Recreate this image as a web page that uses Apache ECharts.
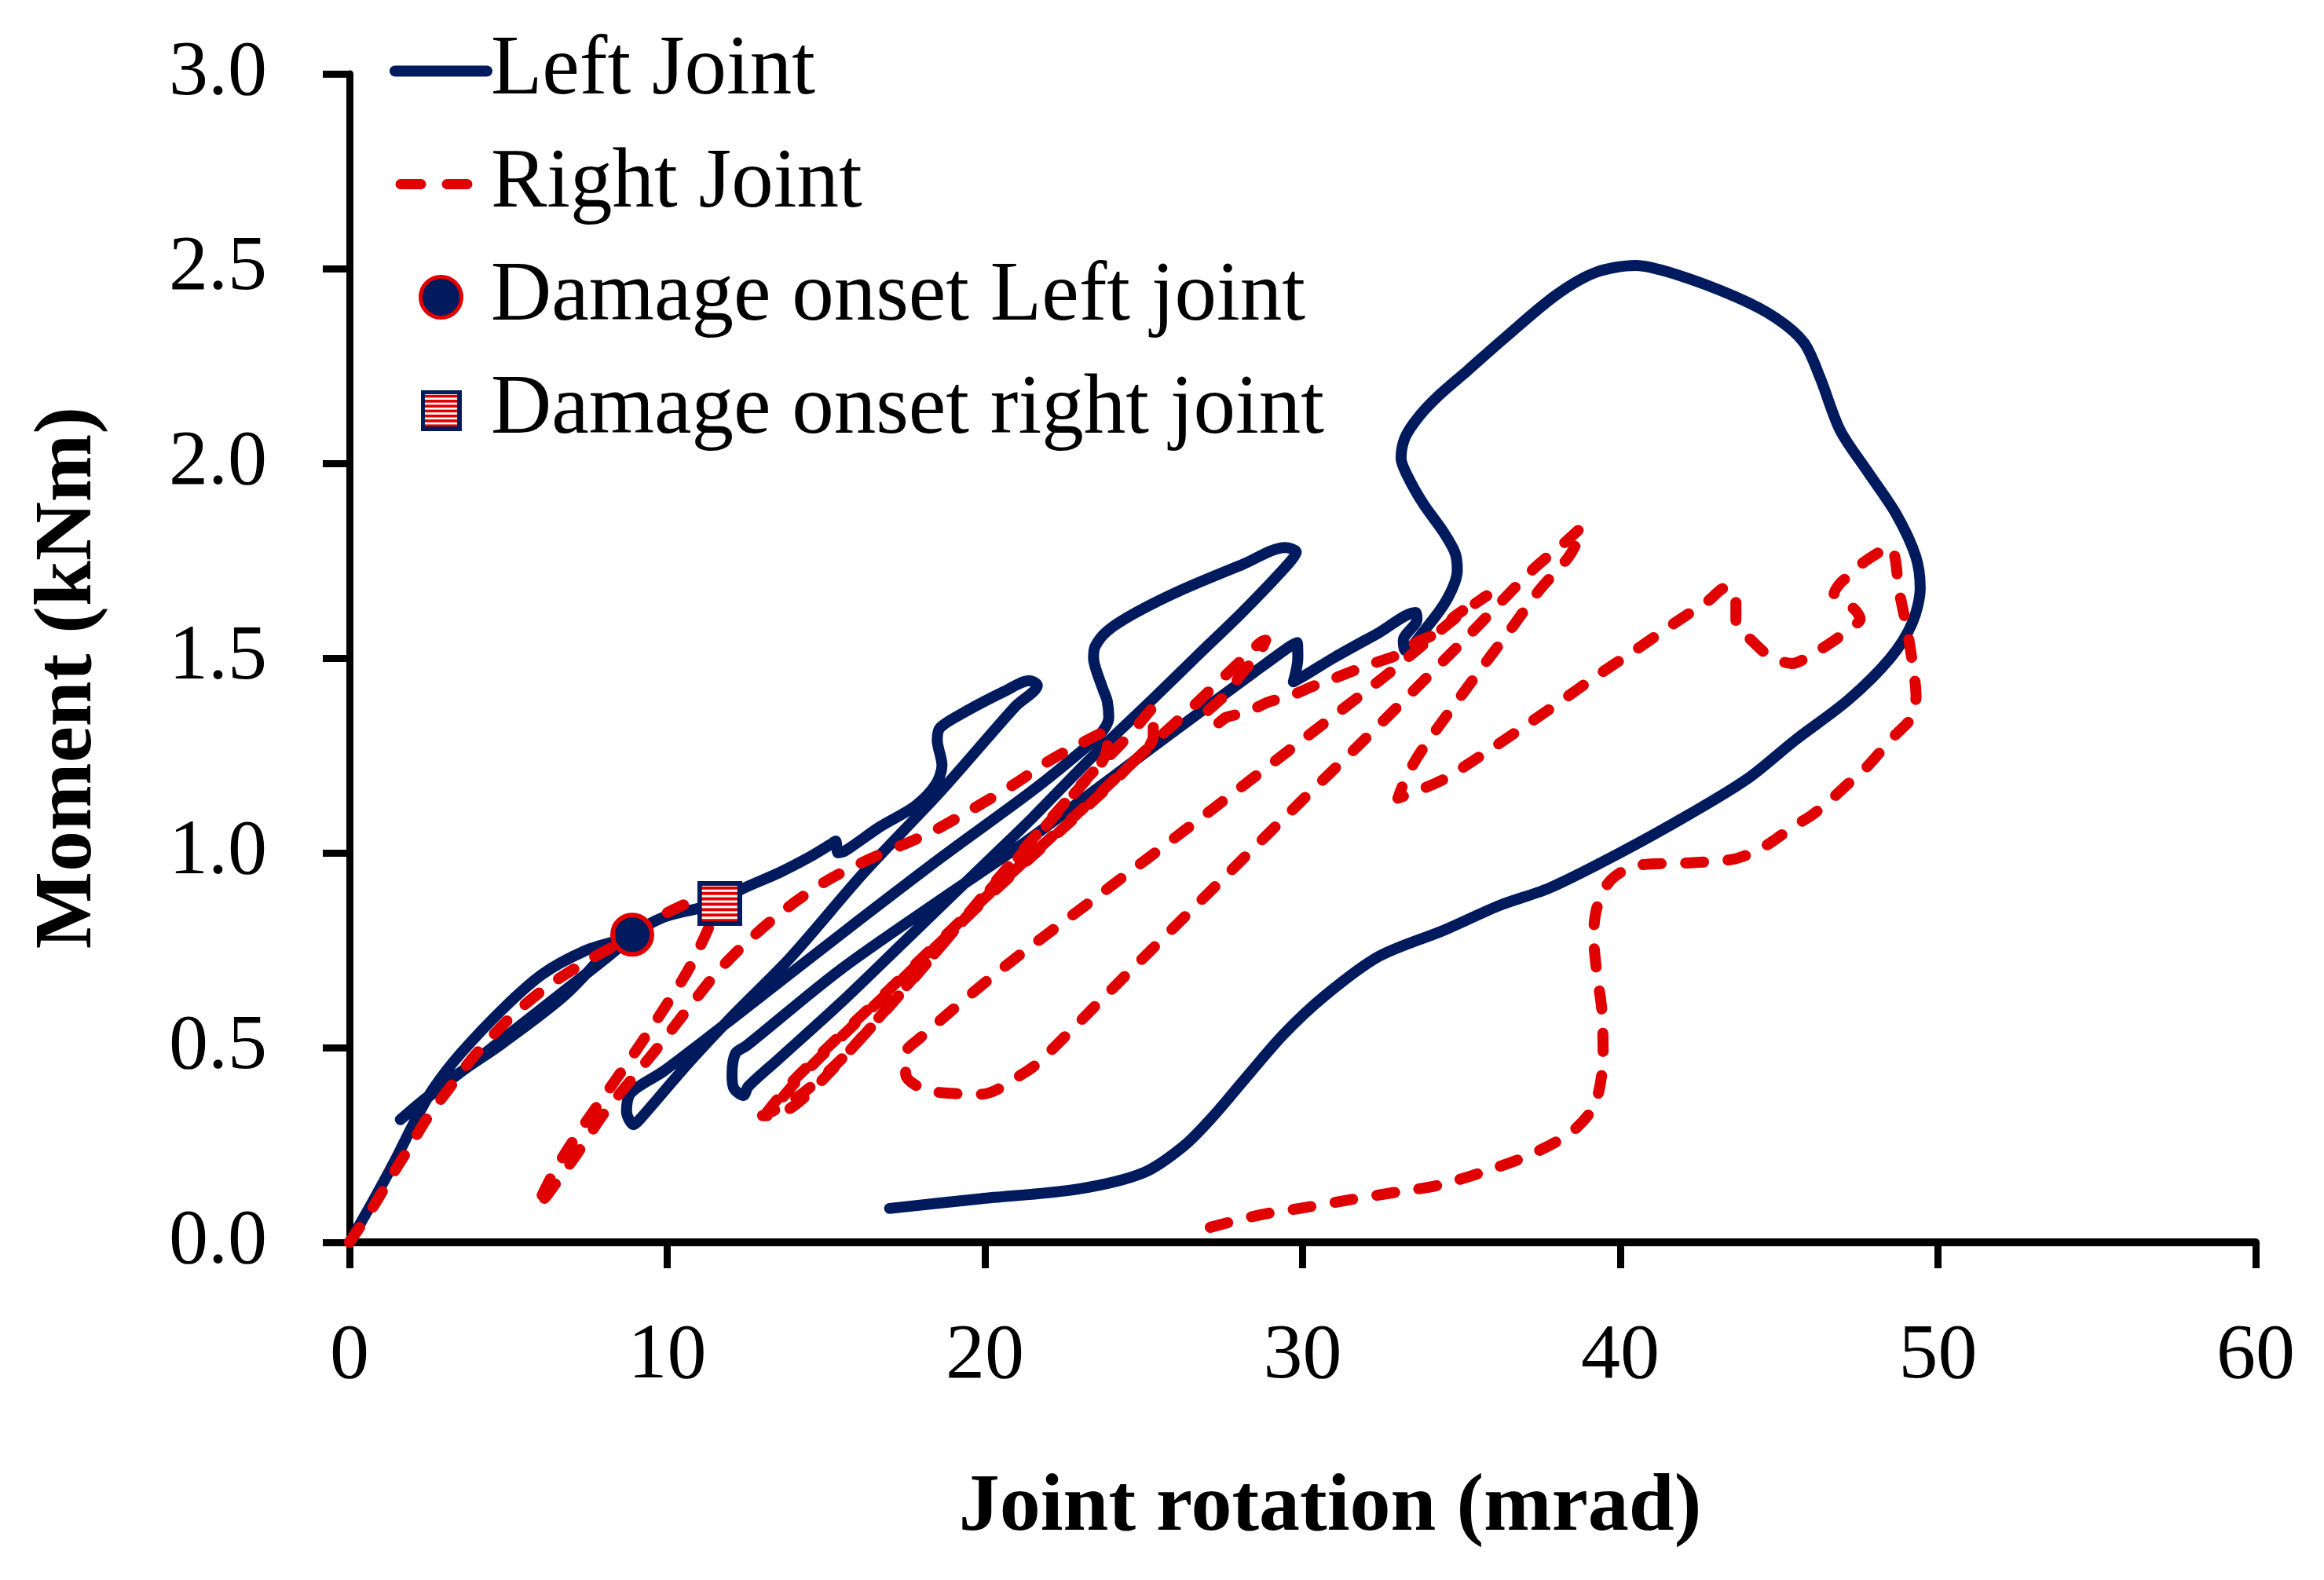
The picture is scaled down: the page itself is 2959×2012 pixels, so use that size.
<!DOCTYPE html>
<html><head><meta charset="utf-8">
<script src="https://cdn.jsdelivr.net/npm/echarts@6/dist/echarts.min.js"></script>
<style>html,body{margin:0;padding:0;background:#fff}#c{width:2959px;height:2012px}</style>
</head><body><div id="c"></div>
<script>
// ---- Left joint (solid navy) path, in loading order ----
const leftCycle1 = [[0,0],[0.7,0.1],[1.4,0.205],[2.05,0.31],[2.6,0.39],[3.5,0.485],[4.9,0.605],[6.1,0.69],[7.4,0.748],[8.35,0.772]];
const leftUnload1 = [[6.8,0.636],[4.8,0.51],[3.6,0.443],[2.4,0.37],[1.6,0.315]];
const leftReload1 = [[2.4,0.368],[3.6,0.443],[4.8,0.52],[6.8,0.648],[8.35,0.748],[8.9,0.79]];
const leftEnvelope = [[9.9,0.835],[11.0,0.858],[11.7,0.875],[12.3,0.905],[13.55,0.95],[14.5,0.99],[15.15,1.022],[15.3,1.03],[15.38,1.0],[15.6,1.005],[16.7,1.067],[17.8,1.12],[18.45,1.175],[18.65,1.225],[18.5,1.29],[18.6,1.322],[19.4,1.363],[20.6,1.414],[21.4,1.442],[21.65,1.43]];
const leftUnload2 = [[20.96,1.376],[18.6,1.157],[16.2,0.95],[13.9,0.733],[12.1,0.585],[10.7,0.463],[9.13,0.315],[8.95,0.302],[8.72,0.335],[8.86,0.384]];
const leftReload2 = [[9.9,0.44],[12.3,0.59],[15.45,0.79],[18.66,0.99],[21.5,1.16],[23.12,1.267],[23.69,1.311],[23.9,1.348],[23.85,1.39],[23.74,1.415],[23.5,1.47],[23.42,1.5],[23.47,1.53],[23.86,1.57],[24.76,1.617],[26.25,1.677],[28.13,1.741],[29.45,1.784],[29.8,1.772]];
const leftUnload3 = [[29.54,1.741],[28.13,1.62],[26.71,1.508],[25.29,1.395],[23.3,1.24],[21.5,1.09],[20.27,0.993],[17.5,0.775],[15.45,0.614],[13.5,0.47],[12.55,0.40],[12.4,0.377],[12.1,0.395],[12.04,0.43],[12.15,0.485],[12.5,0.505]];
const leftReload3 = [[15.45,0.70],[18.7,0.885],[21.14,1.02],[23.12,1.14],[26.0,1.315],[28.5,1.465],[29.6,1.53],[29.83,1.54],[29.85,1.5],[29.71,1.439],[30.0,1.452],[31.03,1.503],[32.4,1.565],[33.55,1.617],[33.6,1.6],[33.17,1.545],[33.23,1.52]];
const leftBigLoop = [[33.93,1.581],[34.56,1.653],[34.87,1.725],[34.8,1.77],[34.43,1.824],[33.8,1.896],[33.3,1.968],[33.1,2.013],[33.23,2.067],[33.67,2.121],[34.3,2.175],[35.19,2.238],[36.32,2.319],[37.96,2.431],[39.22,2.49],[40.49,2.508],[41.75,2.485],[43.64,2.427],[44.9,2.373],[45.78,2.31],[46.29,2.22],[46.92,2.085],[47.8,1.977],[48.69,1.869],[49.3,1.761],[49.44,1.68],[49.19,1.59],[48.5,1.5],[47.17,1.392],[45.5,1.289],[44.0,1.19],[42.2,1.10],[39.99,1.0],[37.78,0.91],[36.2,0.865],[34.47,0.802],[32.4,0.734],[30.7,0.633],[29.39,0.533],[28.16,0.417],[27.2,0.325],[26.27,0.248],[25.0,0.179],[22.94,0.137],[19.87,0.112],[17.0,0.087]];

// ---- Right joint (dashed red) path, in loading order ----
const rightEnvelope = [[0,0],[0.71,0.087],[1.33,0.171],[1.84,0.238],[2.46,0.321],[3.07,0.388],[3.69,0.455],[4.3,0.513],[5.22,0.589],[6.35,0.664],[7.58,0.727],[8.7,0.778],[9.53,0.825],[10.35,0.86],[11.17,0.885],[11.6,0.88]];
const rightUnload1 = [[11.45,0.835],[10.7,0.705],[9.9,0.6],[9.0,0.49],[8.1,0.385],[7.2,0.28],[6.5,0.19],[6.0,0.11],[5.92,0.09]];
const rightReload1 = [[6.3,0.13],[7.1,0.22],[8.0,0.33],[8.9,0.42],[9.8,0.51],[10.8,0.615],[11.7,0.705],[12.7,0.785],[13.8,0.86],[15.06,0.93],[16.4,0.985],[18.23,1.05],[19.56,1.11],[20.9,1.175],[22.02,1.236],[23.0,1.28],[23.6,1.305],[23.9,1.315]];
const rightUnload2 = [[23.85,1.27],[23.69,1.234],[23.2,1.188],[20.37,0.925],[17.6,0.665],[15.5,0.47],[14.14,0.36],[13.3,0.325],[13.0,0.325]];
const rightReload2 = [[13.4,0.34],[14.3,0.385],[15.6,0.48],[17.7,0.672],[20.37,0.93],[23.2,1.19],[24.15,1.268],[24.68,1.315],[25.3,1.375]];
const rightUnload3 = [[25.3,1.3],[24.47,1.217],[23.44,1.136],[20.27,0.9],[17.0,0.645],[15.0,0.49],[14.03,0.41],[13.4,0.35],[13.1,0.33]];
const rightReload3 = [[14.03,0.42],[17.0,0.65],[20.27,0.905],[23.44,1.14],[25.5,1.297],[26.58,1.378],[28.22,1.506],[28.7,1.542],[28.84,1.546]];
const rightCurl = [[28.6,1.506],[28.14,1.466],[27.65,1.412],[27.2,1.378],[27.0,1.36],[27.0,1.335],[27.25,1.33],[27.6,1.348]];
const rightFlat = [[28.22,1.361],[28.96,1.388],[29.58,1.402],[30.37,1.429],[30.94,1.446],[32.0,1.48],[33.14,1.513]];
const rightUpper = [[33.59,1.541],[34.47,1.572],[34.74,1.604],[35.57,1.649],[35.8,1.66]];
const rightUnload4 = [[35.0,1.615],[33.36,1.505],[32.7,1.46],[30.0,1.29],[27.13,1.11],[23.54,0.888],[20.5,0.70],[17.92,0.522],[17.5,0.485],[17.51,0.43],[18.0,0.395],[18.54,0.385],[19.87,0.38],[21.3,0.438],[21.82,0.472]];
const rightReload4 = [[24.0,0.65],[27.46,0.931],[30.0,1.136],[32.26,1.316],[35.25,1.56],[37.27,1.729],[38.3,1.8],[38.77,1.835]];
const rightUnload5 = [[38.65,1.80],[38.34,1.756],[37.46,1.675],[36.58,1.577],[35.46,1.455],[33.75,1.263],[33.26,1.194],[33.0,1.14]];
const rightReload5 = [[33.7,1.162],[34.47,1.19],[35.68,1.253],[36.9,1.32],[38.11,1.388],[39.27,1.455],[40.43,1.518],[41.64,1.586],[42.8,1.649],[43.3,1.68],[43.6,1.672],[43.64,1.635],[43.64,1.59],[44.14,1.545],[44.64,1.509],[45.4,1.486],[46.03,1.509],[46.73,1.545],[47.24,1.577],[47.55,1.6],[47.36,1.626],[46.9,1.65],[46.73,1.665],[46.9,1.69],[47.17,1.71],[47.68,1.747],[48.3,1.779],[48.5,1.785]];
const rightUnload6 = [[48.65,1.757],[48.76,1.68],[48.87,1.635],[49.04,1.568],[49.26,1.451],[49.31,1.401],[49.2,1.36],[49.09,1.338],[48.65,1.302],[48.16,1.257],[47.66,1.212],[47.1,1.172],[46.61,1.135],[46.0,1.095],[45.45,1.068],[44.84,1.032],[44.29,1.005],[43.52,0.983],[42.08,0.974],[40.65,0.969],[40.04,0.951],[39.6,0.92],[39.27,0.861],[39.16,0.789],[39.25,0.7],[39.42,0.595],[39.46,0.479],[39.32,0.386],[39.04,0.332],[38.38,0.278],[37.14,0.224],[35.73,0.182],[34.3,0.147],[32.89,0.128],[31.47,0.109],[30.05,0.089],[28.63,0.07],[26.93,0.035]];

// ---- Damage onset markers ----
const damageLeft = [[8.9, 0.79]];
const damageRight = [[11.65, 0.87]];

const seriesNames = ['Left Joint','Right Joint','Damage onset Left joint','Damage onset right joint'];

const leftJoint = [].concat(leftCycle1,leftUnload1,leftReload1,leftEnvelope,leftUnload2,leftReload2,leftUnload3,leftReload3,leftBigLoop);
const rightJoint = [].concat(rightEnvelope,rightUnload1,rightReload1,rightUnload2,rightReload2,rightUnload3,rightReload3,rightCurl,rightFlat,rightUpper,rightUnload4,rightReload4,rightUnload5,rightReload5,rightUnload6);

const NAVY = '#001a5e', RED = '#e00000', FONT = 'Liberation Serif';
const HIDDEN = {color: 'rgba(0,0,0,0)', borderWidth: 0, borderColor: 'rgba(0,0,0,0)', opacity: 0};

// striped square marker image (navy frame, red/white horizontal stripes)
function stripedSquare(){
  const s = 58, b = 6;
  const c = document.createElement('canvas'); c.width = s; c.height = s;
  const g = c.getContext('2d');
  g.fillStyle = NAVY; g.fillRect(0,0,s,s);
  g.fillStyle = '#ffffff'; g.fillRect(b,b,s-2*b,s-2*b);
  g.fillStyle = RED;
  for (let y = b + 1; y < s - b; y += 7) g.fillRect(b, y, s-2*b, Math.min(4, s-b-y));
  return 'image://' + c.toDataURL();
}
const squareIcon = stripedSquare();

const chart = echarts.init(document.getElementById('c'), null, {renderer:'canvas'});
chart.setOption({
  animation: false,
  backgroundColor: '#ffffff',
  grid: {left: 445, right: 87, top: 94, bottom: 430, containLabel: false},
  legend: {
    orient: 'vertical', left: 496, top: 37, padding: 0,
    itemWidth: 117, itemHeight: 52, itemGap: 37,
    textStyle: {fontFamily: FONT, fontSize: 107, color: '#000', lineHeight: 104},
    data: [
      {name: seriesNames[0], itemStyle: HIDDEN, lineStyle: {width: 14, color: NAVY, type: 'solid'}},
      {name: seriesNames[1], itemStyle: HIDDEN, lineStyle: {width: 13, color: RED, type: [26, 33], cap: 'round', dashOffset: -7}},
      {name: seriesNames[2], itemStyle: {color: NAVY, borderColor: RED, borderWidth: 5}},
      {name: seriesNames[3], icon: squareIcon}
    ]
  },
  xAxis: {
    type: 'value', min: 0, max: 60, interval: 10,
    axisLine: {show: true, onZero: false, lineStyle: {color: '#000', width: 10}},
    axisTick: {show: true, length: 33, lineStyle: {color: '#000', width: 9}},
    axisLabel: {margin: 96, fontFamily: FONT, fontSize: 100, color: '#000'},
    splitLine: {show: false},
    name: 'Joint rotation (mrad)', nameLocation: 'middle', nameGap: 287,
    nameTextStyle: {fontFamily: FONT, fontSize: 104, fontWeight: 'bold', color: '#000', padding: [0,0,0,70]}
  },
  yAxis: {
    type: 'value', min: 0, max: 3, interval: 0.5,
    axisLine: {show: true, onZero: false, lineStyle: {color: '#000', width: 9}},
    axisTick: {show: true, length: 34, lineStyle: {color: '#000', width: 9}},
    axisLabel: {margin: 105, fontFamily: FONT, fontSize: 100, color: '#000', formatter: v => v.toFixed(1)},
    splitLine: {show: false},
    name: 'Moment (kNm)', nameLocation: 'middle', nameGap: 305, nameRotate: 90,
    nameTextStyle: {fontFamily: FONT, fontSize: 104, fontWeight: 'bold', color: '#000', padding: [0,50,0,0]}
  },
  series: [
    {name: seriesNames[0], type: 'line', data: leftJoint, symbol: 'none', smooth: 0.3,
     lineStyle: {color: NAVY, width: 14, cap: 'round', join: 'round'}, itemStyle: {color: NAVY}, z: 2},
    {name: seriesNames[1], type: 'line', data: rightJoint, symbol: 'none', smooth: 0.3,
     lineStyle: {color: RED, width: 14, type: [23, 31], cap: 'round', join: 'round'}, itemStyle: {color: RED}, z: 3},
    {name: seriesNames[2], type: 'scatter', data: damageLeft, symbol: 'circle', symbolSize: 50,
     itemStyle: {color: NAVY, borderColor: RED, borderWidth: 6, opacity: 1}, z: 5},
    {name: seriesNames[3], type: 'scatter', data: damageRight, symbol: squareIcon, symbolSize: 57,
     itemStyle: {color: RED, opacity: 1}, z: 5}
  ]
});
</script>
</body></html>
